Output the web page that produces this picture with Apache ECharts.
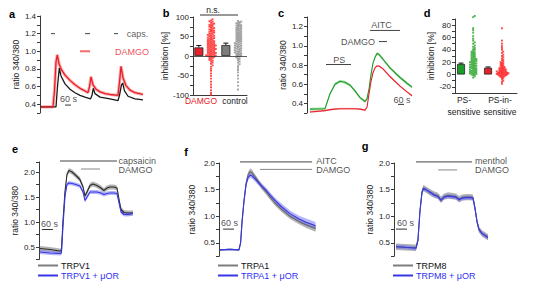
<!DOCTYPE html>
<html><head><meta charset="utf-8">
<script src="https://cdn.jsdelivr.net/npm/echarts@6/dist/echarts.min.js"></script>
<style>html,body{margin:0;padding:0;background:#fff}#c{width:538px;height:289px}</style>
</head><body><div id="c"></div>
<script>
// ===== DATA =====
// panel a (time in s, ratio 340/380)
const aRedT = [10,130,145,160,173,190,210,250,300,350,400,450,480,495,510,530,560,600,650,700,780,795,810,830,860,900,950,1030];
const aRedV = [0.37,0.37,0.55,0.88,0.96,0.86,0.80,0.73,0.67,0.62,0.58,0.55,0.53,0.60,0.71,0.62,0.57,0.54,0.52,0.51,0.50,0.65,0.83,0.70,0.61,0.56,0.53,0.51];
const aBlkT = [10,160,175,193,210,250,300,350,400,450,505,520,533,550,600,700,780,795,815,827,845,880,950,1030];
const aBlkV = [0.37,0.37,0.60,0.81,0.72,0.63,0.57,0.53,0.50,0.48,0.46,0.50,0.58,0.52,0.48,0.46,0.44,0.50,0.62,0.64,0.55,0.49,0.46,0.45];
const aCapsPulses = [[110,150],[450,500],[740,780]];
const aDamgo = [400,500];
const aYTicks = [0.4,0.6,0.8,1.0,1.2,1.4];
// panel b (inhibition %)
const bCats = ['DAMGO','control'];
const bMeans = [22, 28];
const bErr = [5, 5];
const bDamgoDots = [94,91,89,88,85,83,82,80,79,77,75,74,72,71,69,68,66,65,64,62,61,60,58,57,56,54,53,52,51,50,48,47,46,45,44,43,41,40,39,38,37,36,35,34,33,32,31,30,29,28,27,27,26,25,24,23,22,21,20,19,18,18,17,16,15,14,13,12,11,10,9,8,8,7,6,5,4,3,2,2,1,0,0,-1,-2,-3,-5,-6,-8,-10,-12,-14,-17,-20,-24,-28,-33,-38,-45,-51,-58,-66,-73,-80,-88,-95,-100];
const bCtrlDots = [90,88,87,85,84,82,80,79,78,77,75,74,72,71,70,69,67,66,65,63,62,61,60,58,57,56,55,53,52,51,50,48,47,46,45,43,42,41,40,38,37,36,35,33,32,31,30,29,27,26,25,24,23,21,20,19,18,17,15,14,13,12,11,9,8,7,6,5,3,2,1,0,-2,-4,-6,-8,-11,-14,-17,-21,-25,-30,-36,-42,-50,-58,-67,-76,-86];
const bYTicks = [-100,-50,0,50,100];
// panel c
const cT = [30,180,230,280,330,380,430,480,530,580,600,620,640,660,680,700,720,760,830,930,1000,1050];
const cGreen = [0.34,0.345,0.5,0.6,0.63,0.62,0.59,0.53,0.46,0.42,0.45,0.55,0.7,0.82,0.88,0.92,0.91,0.86,0.77,0.67,0.61,0.57];
const cRed = [0.31,0.325,0.335,0.34,0.345,0.345,0.345,0.345,0.34,0.33,0.36,0.5,0.63,0.72,0.77,0.79,0.79,0.76,0.68,0.58,0.52,0.48];
const cGreenSem = 0.015, cRedSem = 0.01;
const cPS = [190,440], cAITC = [630,930], cDAMGO = [720,800];
const cYTicks = [0.4,0.6,0.8,1.0,1.2];
// panel d
const dCats = ['PS-\nsensitive','PS-in-\nsensitive'];
const dMeans = [17, 11];
const dErr = [1.5, 1.2];
const dSensDots = [95,93,75,72,68,62,58,55,52,50,47,45,43,41,40,38,37,36,35,34,33,32,31,30,29,28,27,26,25,25,24,23,22,22,21,20,20,19,18,18,17,16,16,15,14,14,13,12,12,11,10,10,9,8,8,7,6,6,5,5,4,3,3,2,2,1,0,0,-1,-3,-5];
const dInsDots = [75,55,50,46,43,40,37,35,32,30,28,26,24,23,21,20,19,18,17,16,15,14,13,12,12,11,10,10,9,9,8,8,7,7,6,6,5,5,5,4,4,3,3,3,3,2,2,2,1,1,1,0,0,0,0,-1,-1,-2,-2,-3,-3,-4,-5,-6,-8,-10,-12,-15];
const dYTicks = [-20,0,20,40,60,80];
// panel e (TRPV1)
const eT = [5,60,115,123,131,142,153,164,181,202,224,241,252,263,279,295,317,339,355,372,388,410,427,438,449,465,487,514];
const eTRPV1 = [0.47,0.45,0.42,0.44,1.0,1.6,1.95,2.03,2.0,1.93,1.85,1.7,1.52,1.6,1.73,1.76,1.73,1.68,1.63,1.68,1.7,1.7,1.68,1.45,1.25,1.19,1.18,1.18];
const eTRPV1mOR = [0.4,0.38,0.37,0.38,0.9,1.5,1.75,1.78,1.77,1.75,1.72,1.6,1.43,1.5,1.6,1.6,1.6,1.58,1.55,1.57,1.58,1.58,1.57,1.38,1.2,1.15,1.15,1.17];
const eSemGrey = 0.05, eSemBlue = 0.04;
const eCaps = [115,427], eDamgo = [230,334];
// panel f (TRPA1)
const fT = [5,60,109,118,126,137,148,159,170,180,197,213,235,257,279,306,345,388,438,476,514,528];
const fTRPA1 = [0.37,0.38,0.37,0.5,0.9,1.3,1.62,1.78,1.84,1.82,1.74,1.66,1.55,1.46,1.36,1.25,1.12,1.0,0.9,0.84,0.79,0.77];
const fTRPA1mOR = [0.37,0.38,0.37,0.5,0.9,1.3,1.6,1.73,1.77,1.76,1.7,1.64,1.56,1.49,1.4,1.3,1.17,1.05,0.95,0.89,0.84,0.82];
const fSemGrey = [0.01,0.01,0.01,0.02,0.03,0.04,0.05,0.05,0.06,0.06,0.05,0.05,0.05,0.05,0.05,0.05,0.05,0.05,0.05,0.06,0.06,0.06];
const fSemBlue = [0.01,0.01,0.01,0.02,0.03,0.04,0.05,0.05,0.05,0.05,0.05,0.05,0.05,0.05,0.05,0.05,0.06,0.06,0.06,0.07,0.07,0.07];
const fAITC = [115,509], fDamgo = [224,509];
// panel g (TRPM8)
const gT = [11,60,120,131,142,153,161,175,197,219,241,257,274,295,317,339,356,372,394,416,432,443,454,465,481,498,514];
const gTRPM8 = [0.43,0.42,0.41,0.55,1.1,1.45,1.53,1.5,1.45,1.41,1.38,1.31,1.37,1.39,1.38,1.37,1.32,1.35,1.36,1.36,1.35,1.15,0.9,0.75,0.68,0.64,0.61];
const gTRPM8mOR = [0.43,0.42,0.40,0.55,1.1,1.45,1.52,1.5,1.45,1.4,1.37,1.3,1.36,1.38,1.37,1.36,1.31,1.34,1.35,1.35,1.34,1.15,0.9,0.75,0.68,0.64,0.6];
const gSemGrey = 0.06, gSemBlue = 0.04;
const gMenthol = [120,427], gDamgo = [241,345];
const efgYTicks = [0.5,1.0,1.5,2.0];
const scaleBarSec = 60;

// ===== STYLE / HELPERS =====
const FONT = 'Liberation Sans, Arial, sans-serif';
const AXC = '#3a3a3a';
const RED = '#e8202a', GREEN = '#1e9a2a', BLUE = '#3636e6', GREY = '#7d7d7d';
const series = [];
const semAt = (s, i) => Array.isArray(s) ? s[i] : s;

function yAx(gi, min, max, interval, ticks, dec, name, gap) {
  return { gridIndex: gi, type: 'value', min, max, interval, name, nameLocation: 'middle', nameGap: gap, nameRotate: 90,
    nameTextStyle: { fontSize: 8.5, color: '#222', fontFamily: FONT },
    axisLine: { show: true, onZero: false, lineStyle: { color: AXC, width: 1 } },
    axisTick: { show: true, inside: false, length: 3, lineStyle: { color: AXC } },
    axisLabel: { show: true, margin: 4, fontSize: 8, color: '#222', fontFamily: FONT,
      formatter: v => ticks.some(t => Math.abs(t - v) < 1e-6) ? v.toFixed(dec) : '' },
    splitLine: { show: false } };
}
function xAx(gi, max, showLine) {
  return { gridIndex: gi, type: 'value', min: 0, max, show: !!showLine,
    axisLine: { show: !!showLine, onZero: false, lineStyle: { color: AXC, width: 1 } },
    axisTick: { show: false }, axisLabel: { show: false }, splitLine: { show: false } };
}
function line(gi, ts, vs, color, width, z, name) {
  series.push({ type: 'line', name, xAxisIndex: gi, yAxisIndex: gi, data: ts.map((t, i) => [t, vs[i]]),
    symbol: 'none', showSymbol: false, color, lineStyle: { color, width }, silent: true, z: z || 3, clip: false, animation: false });
}
function band(gi, ts, vs, sem, fill, z) {
  const up = ts.map((t, i) => [t, vs[i] + semAt(sem, i)]);
  const lo = ts.map((t, i) => [t, vs[i] - semAt(sem, i)]);
  series.push({ type: 'custom', xAxisIndex: gi, yAxisIndex: gi, data: [[ts[0], vs[0]]], silent: true, z: z || 2, clip: false, animation: false,
    renderItem: (p, api) => ({ type: 'polygon', shape: { points: up.concat(lo.slice().reverse()).map(d => api.coord(d)) }, style: { fill } }) });
}
function seg(gi, t0, t1, y, color, width) {
  line(gi, [t0, t1], [y, y], color, width, 5);
}
function txt(gi, t, y, text, color, align, size) {
  series.push({ type: 'scatter', xAxisIndex: gi, yAxisIndex: gi, data: [[t, y]], symbolSize: 0, silent: true, clip: false, animation: false, z: 6,
    label: { show: true, position: [0, 0], align: align || 'left', verticalAlign: 'middle', formatter: text, color: color || '#222', fontSize: size || 9, fontFamily: FONT } });
}
function errBars(gi, xs, ms, es) {
  series.push({ type: 'custom', xAxisIndex: gi, yAxisIndex: gi, data: xs.map((x, i) => [x, ms[i], es[i]]), silent: true, clip: false, z: 4, animation: false,
    renderItem: (p, api) => {
      const x = api.value(0), m = api.value(1), e = api.value(2);
      const b = api.coord([x, m]), t = api.coord([x, m + e]);
      return { type: 'group', children: [
        { type: 'line', shape: { x1: b[0], y1: b[1], x2: t[0], y2: t[1] }, style: { stroke: '#111', lineWidth: 1 } },
        { type: 'line', shape: { x1: t[0] - 2.5, y1: t[1], x2: t[0] + 2.5, y2: t[1] }, style: { stroke: '#111', lineWidth: 1 } } ] };
    } });
}
// beeswarm placement of the dots (layout only, values unchanged)
function swarm(vals, cx, pxX, pxY, d) {
  const s = vals.slice().sort((a, b) => a - b);
  const placed = [];
  return s.map(v => {
    const y = v * pxY;
    for (let k = 0; k < 80; k++) {
      const o = k === 0 ? 0 : (k % 2 ? 1 : -1) * Math.ceil(k / 2) * d;
      if (placed.every(p => Math.abs(p[0] - o) >= d * 0.999 || Math.abs(p[1] - y) >= d * 0.999)) {
        placed.push([o, y]); return [cx + o / pxX, v];
      }
    }
    return [cx, v];
  });
}
function dots(gi, pts, color) {
  series.push({ type: 'scatter', xAxisIndex: gi, yAxisIndex: gi, data: pts, symbol: 'rect', symbolSize: 1.9, silent: true, clip: false, animation: false, z: 3,
    itemStyle: { color } });
}

// ===== GRIDS =====
const G = [
  { left: 40, top: 16, width: 104, height: 97 },
  { left: 193, top: 17, width: 54, height: 78 },
  { left: 307, top: 17, width: 107, height: 96 },
  { left: 455, top: 19, width: 62, height: 74 },
  { left: 39, top: 162, width: 95, height: 97.5 },
  { left: 219, top: 163, width: 97, height: 93.3 },
  { left: 394, top: 163, width: 96, height: 93.3 }
].map(g => Object.assign({ outerBoundsMode: 'none', containLabel: false }, g));

const xAxes = [xAx(0, 1040), xAx(1, 6, true), xAx(2, 1070), xAx(3, 7, true), xAx(4, 520), xAx(5, 530), xAx(6, 525)];
const yAxes = [
  yAx(0, 0.3, 1.4, 0.1, aYTicks, 1, 'ratio 340/380', 20),
  yAx(1, -100, 100, 25, bYTicks, 0, 'inhibition [%]', 24),
  yAx(2, 0.3, 1.3, 0.1, cYTicks, 1, 'ratio 340/380', 15),
  yAx(3, -30, 90, 10, dYTicks, 0, 'inhibition [%]', 18),
  yAx(4, 0.25, 2.2, 0.25, efgYTicks, 1, 'ratio 340/380', 20),
  yAx(5, 0.25, 2.0, 0.25, efgYTicks, 1, 'ratio 340/380', 23),
  yAx(6, 0.25, 2.0, 0.25, efgYTicks, 1, 'ratio 340/380', 20)
];

// ===== PANEL a =====
line(0, aRedT, aRedV, 'rgba(245,110,110,0.55)', 3.2, 2);
line(0, aBlkT, aBlkV, '#1a1a1a', 1.3, 3);
line(0, aRedT, aRedV, RED, 1.3, 4);
aCapsPulses.forEach(p => seg(0, p[0], p[1], 1.2, '#444', 1));
seg(0, aDamgo[0], aDamgo[1], 1.0, 'rgba(240,70,70,0.8)', 2);
txt(0, 867, 1.2, 'caps.', '#333', 'left', 9);
txt(0, 750, 0.995, 'DAMGO', RED, 'left', 9);
seg(0, 250, 250 + scaleBarSec, 0.39, '#333', 1);
txt(0, 285, 0.456, '60 s', '#222', 'center', 9);

// ===== PANEL b =====
series.push({ type: 'bar', xAxisIndex: 1, yAxisIndex: 1, barWidth: 9, silent: true, animation: false, z: 3,
  data: [{ value: [0.65, bMeans[0]], itemStyle: { color: RED } }, { value: [3.65, bMeans[1]], itemStyle: { color: GREY } }],
  itemStyle: { borderColor: '#222', borderWidth: 0.8 },
  markLine: { silent: true, symbol: 'none', animation: false, label: { show: false }, lineStyle: { color: '#333', width: 0.8, type: 'solid' }, data: [{ yAxis: 0 }] } });
errBars(1, [0.65, 3.65], bMeans, bErr);
dots(1, swarm(bDamgoDots, 2.0, 9, 0.39, 1.6), '#ff1a1a');
dots(1, swarm(bCtrlDots, 5.0, 9, 0.39, 1.6), '#8a8a8a');

// ===== PANEL c =====
band(2, cT, cGreen, cGreenSem, 'rgba(70,190,70,0.45)', 2);
band(2, cT, cRed, cRedSem, 'rgba(250,120,120,0.45)', 2);
line(2, cT, cGreen, GREEN, 1.1, 3);
line(2, cT, cRed, RED, 1.1, 3);
seg(2, cPS[0], cPS[1], 0.805, '#444', 1);
txt(2, 322, 0.857, 'PS', '#222', 'center', 9);
seg(2, cAITC[0], cAITC[1], 1.16, '#444', 1);
txt(2, 745, 1.22, 'AITC', '#222', 'center', 9);
seg(2, cDAMGO[0], cDAMGO[1], 1.044, '#444', 1);
txt(2, 680, 1.044, 'DAMGO', '#222', 'right', 9);
seg(2, 910, 910 + scaleBarSec, 0.39, '#333', 1);
txt(2, 950, 0.44, '60 s', '#222', 'center', 9);

// ===== PANEL d =====
series.push({ type: 'bar', xAxisIndex: 3, yAxisIndex: 3, barWidth: 8, silent: true, animation: false, z: 3,
  data: [{ value: [0.68, dMeans[0]], itemStyle: { color: GREEN } }, { value: [3.73, dMeans[1]], itemStyle: { color: RED } }],
  itemStyle: { borderColor: '#222', borderWidth: 0.8 } });
errBars(3, [0.68, 3.73], dMeans, dErr);
dots(3, swarm(dSensDots, 2.05, 8.857, 0.617, 1.6), '#1f9f1f');
dots(3, swarm(dInsDots, 5.3, 8.857, 0.617, 1.3), '#ff1a1a');

// ===== PANELS e, f, g =====
function tracePanel(gi, ts, grey, blue, semG, semB, greyLine, nameG, nameB) {
  band(gi, ts, grey, semG, 'rgba(120,120,120,0.55)', 1);
  band(gi, ts, blue, semB, 'rgba(110,110,245,0.5)', 2);
  line(gi, ts, grey, greyLine, 1.1, 3, nameG);
  line(gi, ts, blue, BLUE, 1.1, 4, nameB);
}
tracePanel(4, eT, eTRPV1, eTRPV1mOR, eSemGrey, eSemBlue, '#2a2a2a', 'TRPV1', 'TRPV1 + μOR');
seg(4, eCaps[0], eCaps[1], 2.22, '#444', 1);
seg(4, eDamgo[0], eDamgo[1], 2.06, '#888', 1);
txt(4, 435, 2.22, 'capsaicin', '#222', 'left', 9);
txt(4, 435, 2.04, 'DAMGO', '#222', 'left', 9);
seg(4, 16, 16 + scaleBarSec, 0.85, '#333', 1);
txt(4, 57, 0.97, '60 s', '#222', 'center', 9);

tracePanel(5, fT, fTRPA1, fTRPA1mOR, fSemGrey, fSemBlue, '#666', 'TRPA1', 'TRPA1 + μOR');
seg(5, fAITC[0], fAITC[1], 2.02, '#444', 1);
seg(5, fDamgo[0], fDamgo[1], 1.88, '#888', 1);
txt(5, 531, 2.04, 'AITC', '#222', 'left', 9);
txt(5, 531, 1.86, 'DAMGO', '#222', 'left', 9);
seg(5, 22, 22 + scaleBarSec, 0.76, '#333', 1);
txt(5, 57, 0.87, '60 s', '#222', 'center', 9);

tracePanel(6, gT, gTRPM8, gTRPM8mOR, gSemGrey, gSemBlue, '#666', 'TRPM8', 'TRPM8 + μOR');
seg(6, gMenthol[0], gMenthol[1], 2.02, '#444', 1);
seg(6, gDamgo[0], gDamgo[1], 1.87, '#888', 1);
txt(6, 443, 2.04, 'menthol', '#222', 'left', 9);
txt(6, 443, 1.86, 'DAMGO', '#222', 'left', 9);
seg(6, 11, 11 + scaleBarSec, 0.76, '#333', 1);
txt(6, 63, 0.87, '60 s', '#222', 'center', 9);

function legendItem(left, top, name, color, textColor) {
  return { left, top, orient: 'horizontal', icon: 'rect', itemWidth: 20, itemHeight: 2, itemGap: 0, selectedMode: false, padding: 0,
    formatter: n => '{c|' + n + '}',
    textStyle: { fontSize: 9, fontFamily: FONT, color: textColor, padding: [0, 0, 0, -2],
      rich: { c: { color: textColor, fontSize: 9, fontFamily: FONT } } },
    data: [{ name, itemStyle: { color } }] };
}
const legends = [];
[[38, 'TRPV1', 'TRPV1 + μOR'], [218, 'TRPA1', 'TRPA1 + μOR'], [393, 'TRPM8', 'TRPM8 + μOR']].forEach(([l, a, b]) => {
  legends.push(legendItem(l, 261, a, GREY, '#111'));
  legends.push(legendItem(l, 271, b, BLUE, '#2f2ff2'));
});

// ===== GRAPHIC TEXT =====
function gt(x, y, text, opts) {
  return Object.assign({ type: 'text', x, y, silent: true,
    style: Object.assign({ text, fontSize: 8.5, fontFamily: FONT, fill: '#222', align: 'center', verticalAlign: 'middle' }, (opts || {})) });
}
const graphic = [
  gt(12, 14, 'a', { fontSize: 11, fontWeight: 'bold', fill: '#000' }),
  gt(166, 13, 'b', { fontSize: 11, fontWeight: 'bold', fill: '#000' }),
  gt(281, 13, 'c', { fontSize: 11, fontWeight: 'bold', fill: '#000' }),
  gt(427, 13, 'd', { fontSize: 11, fontWeight: 'bold', fill: '#000' }),
  gt(15, 149, 'e', { fontSize: 11, fontWeight: 'bold', fill: '#000' }),
  gt(186, 152, 'f', { fontSize: 11, fontWeight: 'bold', fill: '#000' }),
  gt(365, 146, 'g', { fontSize: 11, fontWeight: 'bold', fill: '#000' }),
  { type: 'line', silent: true, shape: { x1: 200, y1: 15, x2: 238, y2: 15 }, style: { stroke: '#333', lineWidth: 1 } },
  gt(213, 10, 'n.s.', { fontSize: 8.5 }),
  gt(201, 101, bCats[0], { fill: RED }),
  gt(235, 101, bCats[1], { fill: '#222' }),
  gt(464, 106, dCats[0], { lineHeight: 12 }),
  gt(500, 106, dCats[1], { lineHeight: 12 })
];

const chart = echarts.init(document.getElementById('c'), null, { renderer: 'svg', width: 538, height: 289 });
chart.setOption({
  animation: false,
  backgroundColor: '#fff',
  textStyle: { fontFamily: FONT },
  grid: G, xAxis: xAxes, yAxis: yAxes, series,
  legend: legends,
  graphic
});
</script></body></html>
